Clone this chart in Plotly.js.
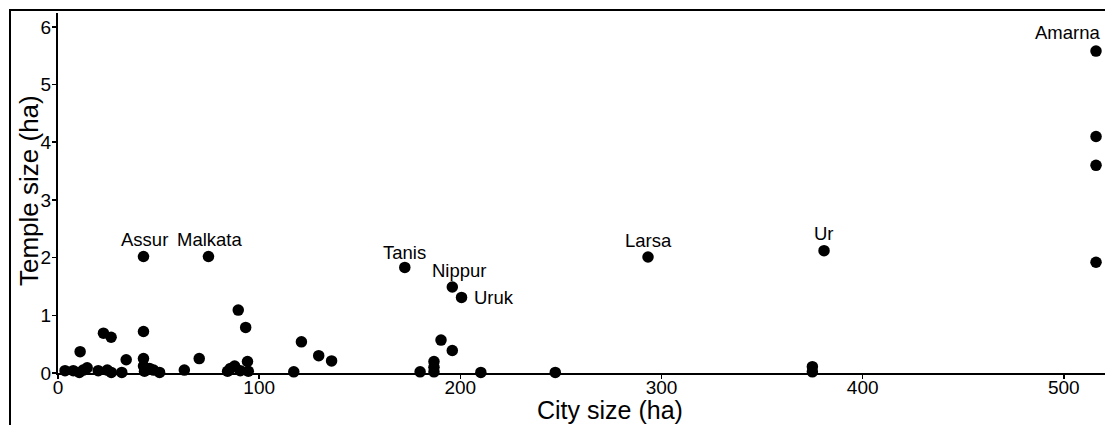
<!DOCTYPE html>
<html>
<head>
<meta charset="utf-8">
<script src="https://cdn.plot.ly/plotly-3.0.1.min.js"></script>
<style>
  html, body { margin: 0; padding: 0; background: #fff; overflow: hidden; }
  #chart { width: 1165px; height: 425px; }
</style>
</head>
<body>
<div id="chart"></div>
<script>
// Settlement area vs. area of the main temple precinct (hectares)
const cityHa = [
  3.5, 7.6, 10.6, 11, 12.5, 14.5, 20, 22.6, 24.5, 26.4, 26.5, 31.7, 33.9,
  42.5, 42.5, 42.5, 43, 45.5, 47.5, 50.5, 62.8, 70.2,
  84.3, 85.7, 87.8, 89.6, 90.6, 93.3, 94.2, 94.6,
  117.2, 121, 129.6, 136,
  180, 186.9, 186.9, 186.9, 190.4, 196, 210.2, 247.2,
  375, 375,
  516, 516, 516,
  42.5, 74.8, 172.4, 196, 200.6, 293.3, 380.8, 516
];
const templeHa = [
  0.04, 0.04, 0.01, 0.37, 0.05, 0.09, 0.04, 0.69, 0.05, 0.62, 0.01, 0.01, 0.23,
  0.72, 0.25, 0.12, 0.03, 0.08, 0.05, 0.01, 0.05, 0.25,
  0.03, 0.08, 0.12, 1.09, 0.04, 0.79, 0.2, 0.03,
  0.02, 0.54, 0.30, 0.21,
  0.02, 0.2, 0.1, 0.02, 0.57, 0.39, 0.01, 0.01,
  0.11, 0.02,
  4.10, 3.60, 1.92,
  2.02, 2.02, 1.83, 1.49, 1.31, 2.01, 2.12, 5.58
];
const siteName = [
  "", "", "", "", "", "", "", "", "", "", "", "", "",
  "", "", "", "", "", "", "", "", "",
  "", "", "", "", "", "", "", "",
  "", "", "", "",
  "", "", "", "", "", "", "", "",
  "", "",
  "", "", "",
  "Assur", "Malkata", "Tanis", "Nippur", "Uruk", "Larsa", "Ur", "Amarna"
];

const xTicks = [0, 100, 200, 300, 400, 500];
const yTicks = [0, 1, 2, 3, 4, 5, 6];
const xTitle = "City size (ha)";
const yTitle = "Temple size (ha)";

// label placement relative to its point (pixels)
const labelPlace = {
  Assur:   { xanchor: "center", xshift: 1,  yshift: 17 },
  Malkata: { xanchor: "center", xshift: 1,  yshift: 17 },
  Tanis:   { xanchor: "center", xshift: 0,  yshift: 15 },
  Nippur:  { xanchor: "center", xshift: 7,  yshift: 17 },
  Uruk:    { xanchor: "left",   xshift: 10, yshift: 0 },
  Larsa:   { xanchor: "center", xshift: 0,  yshift: 17 },
  Ur:      { xanchor: "center", xshift: 0,  yshift: 17 },
  Amarna:  { xanchor: "right",  xshift: 6,  yshift: 19 }
};

const FONT = "Liberation Sans, Arial, sans-serif";

// plot area in pixels
const M = { l: 58, r: 3, t: 13, b: 52 };
const W = 1165, H = 425;
const PW = W - M.l - M.r, PH = H - M.t - M.b;
const px2paperX = px => (px - M.l) / PW;
const px2paperY = py => (H - M.b - py) / PH;

const annotations = [];
siteName.forEach((n, i) => {
  if (!n) return;
  const p = labelPlace[n];
  annotations.push({
    x: cityHa[i], y: templeHa[i], xref: "x", yref: "y",
    text: n, showarrow: false,
    xanchor: p.xanchor, yanchor: "middle",
    xshift: p.xshift, yshift: p.yshift,
    font: { family: FONT, size: 18.5, color: "#000" }
  });
});

// axis titles
annotations.push({
  xref: "paper", yref: "paper", x: px2paperX(610), y: px2paperY(410),
  text: xTitle, showarrow: false, xanchor: "center", yanchor: "middle",
  font: { family: FONT, size: 25, color: "#000" }
});
annotations.push({
  xref: "paper", yref: "paper", x: px2paperX(29), y: px2paperY(191),
  text: yTitle, showarrow: false, textangle: -90, xanchor: "center", yanchor: "middle",
  font: { family: FONT, size: 26, color: "#000" }
});

const trace = {
  type: "scatter", mode: "markers",
  x: cityHa, y: templeHa,
  marker: { size: 11.5, color: "#000", line: { width: 0 } },
  cliponaxis: false,
  hoverinfo: "skip"
};

const axisCommon = {
  showgrid: false, zeroline: false,
  showline: true, linecolor: "#000", linewidth: 2,
  ticks: "outside", ticklen: 4, tickwidth: 1.5, tickcolor: "#000",
  tickfont: { family: FONT, size: 19, color: "#000" },
  fixedrange: true, automargin: false
};

const layout = {
  width: W, height: H,
  margin: M,
  paper_bgcolor: "#fff", plot_bgcolor: "#fff",
  showlegend: false,
  xaxis: Object.assign({}, axisCommon, {
    range: [0, 548.8],
    tickvals: xTicks, ticktext: xTicks.map(String),
    ticklabelstandoff: -8
  }),
  yaxis: Object.assign({}, axisCommon, {
    range: [0, 6.24],
    tickvals: yTicks, ticktext: yTicks.map(String),
    ticklabelstandoff: -3
  }),
  annotations: annotations,
  shapes: [{
    type: "rect", xref: "paper", yref: "paper",
    x0: px2paperX(10), x1: 2, y0: -2, y1: px2paperY(10),
    line: { color: "#000", width: 2 }, fillcolor: "rgba(0,0,0,0)", layer: "above"
  }]
};

Plotly.newPlot("chart", [trace], layout, { displayModeBar: false, staticPlot: true });
</script>
</body>
</html>
